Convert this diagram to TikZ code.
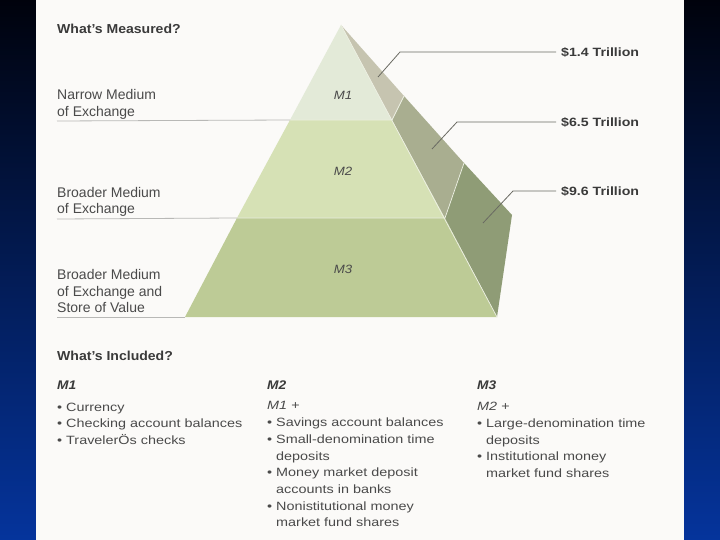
\documentclass[tikz,border=0pt]{standalone}
\usepackage{fontspec}
\setmainfont{Liberation Sans}
\newfontfamily\itemfont[FakeStretch=1.2]{Liberation Sans}
\newfontfamily\amtfont[FakeStretch=1.18]{Liberation Sans}
\newfontfamily\headfont[FakeStretch=1.08]{Liberation Sans}
\newfontfamily\mfont[FakeStretch=1.1]{Liberation Sans}
\definecolor{slidetop}{HTML}{00020C}
\definecolor{slidebot}{HTML}{05349C}
\definecolor{panel}{HTML}{FBFAF8}
\definecolor{txtgrey}{HTML}{4A4A4A}
\definecolor{txtdark}{HTML}{3A3A3A}
\definecolor{rulegrey}{HTML}{B8B8B6}
\definecolor{leadgrey}{HTML}{6A6A62}
\definecolor{frontA}{HTML}{E3EAD8}
\definecolor{frontB}{HTML}{D6E1B5}
\definecolor{frontC}{HTML}{BDCB96}
\definecolor{sideA}{HTML}{C6C4B0}
\definecolor{sideB}{HTML}{A9AE90}
\definecolor{sideC}{HTML}{8F9C76}
\definecolor{bandedge}{HTML}{EEF1E4}
\newcommand{\itm}[1]{\makebox[9pt][l]{\textbullet}#1}
\newcommand{\cnt}{\hspace*{9pt}}
\tikzset{
  lbl/.style={anchor=base west, inner sep=0pt, text=txtgrey, align=left,
    font=\fontsize{14}{16.7}\selectfont},
  item/.style={lbl, font=\itemfont\fontsize{12}{16.7}\selectfont},
  head/.style={lbl, text=txtdark, font=\headfont\fontsize{13}{16}\selectfont\bfseries},
  colhead/.style={lbl, text=txtdark, font=\mfont\fontsize{12.5}{16}\selectfont\bfseries\itshape},
  mlab/.style={inner sep=0pt, text=txtgrey, font=\mfont\fontsize{12}{14}\selectfont\itshape},
  amount/.style={anchor=base west, inner sep=0pt, text=txtdark,
    font=\amtfont\fontsize{12}{14}\selectfont\bfseries},
  rule/.style={draw=rulegrey, line width=0.8pt},
  leader/.style={draw=leadgrey, line width=0.8pt},
  band/.style={draw=bandedge, line width=0.7pt}
}
\begin{document}
\begin{tikzpicture}[x=1pt,y=-1pt]
  \useasboundingbox (0,0) rectangle (720,540);
  \shade [top color=slidetop, bottom color=slidebot] (0,0) rectangle (720,540);
  \fill [panel] (36,0) rectangle (684,540);

  % pyramid corners
  \coordinate (apex) at (341,25);
  \coordinate (baseL) at (185,317);
  \coordinate (baseR) at (497,317);
  \coordinate (back) at (512,215);
  \coordinate (fL1) at (290,120);
  \coordinate (fR1) at (392,120);
  \coordinate (fL2) at (237,218);
  \coordinate (fR2) at (445,218);
  \coordinate (sB1) at (404,96);
  \coordinate (sB2) at (464,163);

  \fill [frontA] (apex) -- (fR1) -- (fL1) -- cycle;
  \fill [frontB] (fL1) -- (fR1) -- (fR2) -- (fL2) -- cycle;
  \fill [frontC] (fL2) -- (fR2) -- (baseR) -- (baseL) -- cycle;
  \fill [sideA] (apex) -- (sB1) -- (fR1) -- cycle;
  \fill [sideB] (fR1) -- (sB1) -- (sB2) -- (fR2) -- cycle;
  \fill [sideC] (fR2) -- (sB2) -- (back) -- (baseR) -- cycle;
  \draw [band] (fL1) -- (fR1) -- (sB1);
  \draw [band] (fL2) -- (fR2) -- (sB2);
  \draw [band] (apex) -- (baseR);

  \node [mlab] (m1) at (343,95) {M1};
  \node [mlab] (m2) at (343,171) {M2};
  \node [mlab] (m3) at (343,269) {M3};

  % left side
  \node [head] (measured) at (57,33.5) {What’s Measured?};
  \node [lbl] (narrow) at (57,116.5) {Narrow Medium\\of Exchange};
  \node [lbl] (broad) at (57,214) {Broader Medium\\of Exchange};
  \node [lbl] (store) at (57,312.7) {Broader Medium\\of Exchange and\\Store of Value};
  \coordinate (r1) at (57,121);
  \coordinate (r2) at (57,219);
  \coordinate (r3) at (57,317);
  \draw [rule] (r1) -- (fL1);
  \draw [rule] (r2) -- (fL2);
  \draw [rule] (r3) -- (baseL);

  % amounts
  \node [amount] (amt1) at (561,56.5) {\$1.4 Trillion};
  \node [amount] (amt2) at (561,126.5) {\$6.5 Trillion};
  \node [amount] (amt3) at (561,195.5) {\$9.6 Trillion};
  \coordinate (dot1) at (378,77);
  \coordinate (dot2) at (432,149);
  \coordinate (dot3) at (483,223);
  \coordinate (kink1) at (400,52);
  \coordinate (kink2) at (457,122);
  \coordinate (kink3) at (513,191);
  \draw [leader] (dot1) -- (kink1) -- ([xshift=-5pt]kink1 -| amt1.west);
  \draw [leader] (dot2) -- (kink2) -- ([xshift=-5pt]kink2 -| amt2.west);
  \draw [leader] (dot3) -- (kink3) -- ([xshift=-5pt]kink3 -| amt3.west);

  % what's included
  \node [head] (included) at (57,360.7) {What’s Included?};
  \node [colhead] (h1) at (57,389) {M1};
  \node [colhead] (h2) at (267,389) {M2};
  \node [colhead] (h3) at (477,389) {M3};
  \node [item] (list1) at (57,444.5) {\itm{Currency}\\\itm{Checking account balances}\\\itm{TravelerÖs checks}};
  \node [item] (list2) at (267,526.8) {\textit{M1 +}\\\itm{Savings account balances}\\\itm{Small-denomination time}\\\cnt deposits\\\itm{Money market deposit}\\\cnt accounts in banks\\\itm{Nonistitutional money}\\\cnt market fund shares};
  \node [item] (list3) at (477,477.4) {\textit{M2 +}\\\itm{Large-denomination time}\\\cnt deposits\\\itm{Institutional money}\\\cnt market fund shares};
\end{tikzpicture}
\end{document}
